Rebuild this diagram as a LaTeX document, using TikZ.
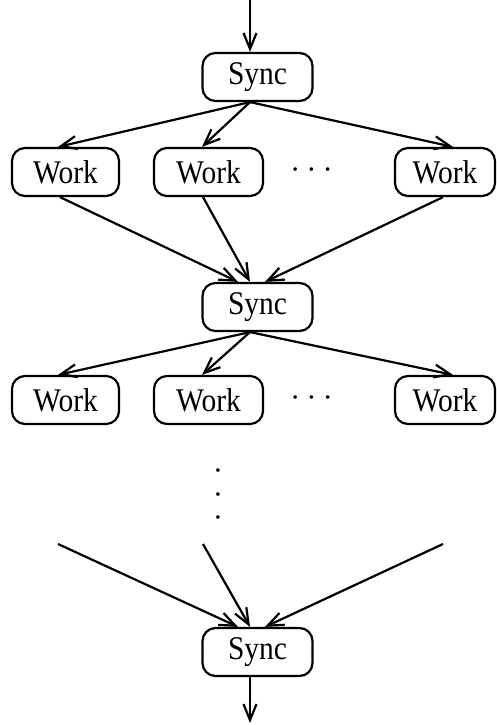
\documentclass[tikz,border=0pt]{standalone}
\usepackage{fontspec}
\setmainfont{Liberation Serif}
\usetikzlibrary{arrows.meta}
\newcommand{\tall}[1]{\scalebox{1}[1.12]{#1}}
\begin{document}
\begin{tikzpicture}[x=1pt,y=-1pt,
  every node/.style={font=\fontsize{29.5}{33}\selectfont},
  task/.style={draw, line width=2.2pt, rounded corners=13pt, inner sep=0pt,
    minimum height=48pt},
  syncbox/.style={task, minimum width=110pt},
  workbox/.style={task, minimum width=107pt},
  flow/.style={line width=2.2pt, -{Straight Barb[length=16pt,width=13pt]}},
  dot/.style={inner sep=0pt, font=\fontsize{15}{16}\selectfont}
]
\useasboundingbox (0,0) rectangle (496,725);

% synchronisation points
\node[syncbox] (s1) at (257.5,77) {\tall{Sync}};
\node[syncbox] (s2) at (257.5,307) {\tall{Sync}};
\node[syncbox] (s3) at (257.5,652) {\tall{Sync}};

% first row of work items
\node[workbox] (w11) at (65.5,172) {\tall{Work}};
\node[workbox, minimum width=109pt] (w12) at (208.5,172) {\tall{Work}};
\node[workbox, minimum width=100pt] (w13) at (445,172) {\tall{Work}};

% second row of work items
\node[workbox] (w21) at (65.5,400) {\tall{Work}};
\node[workbox, minimum width=109pt] (w22) at (208.5,400) {\tall{Work}};
\node[workbox, minimum width=100pt] (w23) at (445,400) {\tall{Work}};

% horizontal ellipses between the work items
\node[dot] (h1) at (311.5,171) {•\hspace{11pt}•\hspace{11pt}•};
\node[dot] (h2) at (311.5,399) {•\hspace{11pt}•\hspace{11pt}•};

% vertical ellipsis
\node[dot] (v1) at (218,472) {•};
\node[dot] (v2) at (218,496) {•};
\node[dot] (v3) at (218,519) {•};

% free ends of the entry, exit and incoming lines
\coordinate (top) at (250,0);
\coordinate (bot) at (250,723);
\coordinate (i1) at (58,544);
\coordinate (i2) at (203,544);
\coordinate (i3) at (443,544);

% entry
\draw[flow] (top) -- ([xshift=-7.5pt]s1.north);

% fan-out from the first sync
\draw[flow] ([xshift=-7.5pt]s1.south) -- ([xshift=-7.5pt]w11.north);
\draw[flow] ([xshift=-7.5pt]s1.south) -- ([xshift=-6.5pt]w12.north);
\draw[flow] ([xshift=-7.5pt]s1.south) -- ([xshift=8pt]w13.north);

% fan-in to the second sync
\draw[flow] ([xshift=-5.5pt]w11.south) -- ([xshift=-19.5pt]s2.north);
\draw[flow] ([xshift=-5.5pt]w12.south) -- ([xshift=-7.5pt]s2.north);
\draw[flow] ([xshift=-2pt]w13.south) -- ([xshift=7.5pt]s2.north);

% fan-out from the second sync
\draw[flow] ([xshift=-7.5pt]s2.south) -- ([xshift=-7.5pt]w21.north);
\draw[flow] ([xshift=-7.5pt]s2.south) -- ([xshift=-6.5pt]w22.north);
\draw[flow] ([xshift=-7.5pt]s2.south) -- ([xshift=8pt]w23.north);

% fan-in to the last sync
\draw[flow] (i1) -- ([xshift=-19.5pt]s3.north);
\draw[flow] (i2) -- ([xshift=-7.5pt]s3.north);
\draw[flow] (i3) -- ([xshift=7.5pt]s3.north);

% exit
\draw[flow] ([xshift=-7.5pt]s3.south) -- (bot);
\end{tikzpicture}
\end{document}
